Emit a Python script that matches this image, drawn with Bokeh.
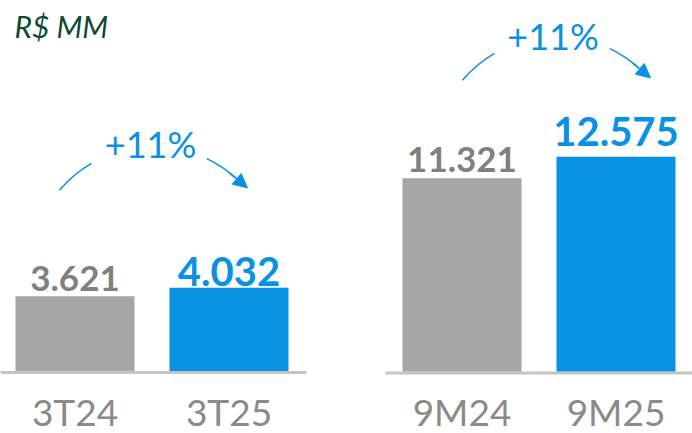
import numpy as np
from bokeh.plotting import figure
from bokeh.layouts import row
from bokeh.models import Range1d, Arrow, NormalHead
from bokeh.core.properties import value
from bokeh.embed import file_html
from bokeh.resources import INLINE

# ---------------- data ----------------
unit_label = "R$ MM"
cats_q = ["3T24", "3T25"]
vals_q = [3.621, 4.032]
labels_q = ["3.621", "4.032"]
growth_q = "+11%"

cats_ytd = ["9M24", "9M25"]
vals_ytd = [11.321, 12.575]
labels_ytd = ["11.321", "12.575"]
growth_ytd = "+11%"

# ---------------- style ----------------
GRAY = "#a6a6a6"
BLUE = "#0a91e3"
VAL_GRAY = "#808080"
CAT_GRAY = "#8a8a8a"
BASE = "#c4c4c4"
GREEN = "#0f4a32"
FONT = "Lato"

W, H = 692, 433
STEP = 154.0             # px between category centres
BAR_W = 119.0            # px
BL_FIX = 0.33            # baseline correction (em)


def make_panel(cats, vals, labels, growth, off, c0, b, k, gaps, arc_c, text_pos, show_unit=False):
    pw = 346.0
    p = figure(width=int(pw), height=H, output_backend="svg",
               toolbar_location=None, x_axis_location=None, y_axis_location=None,
               min_border=0, outline_line_color=None,
               x_range=Range1d(-c0 / STEP, (pw - c0) / STEP),
               y_range=Range1d(-(H - b) / k, b / k))
    p.xgrid.visible = False
    p.ygrid.visible = False
    p.background_fill_color = "white"
    p.border_fill_color = "white"

    def D(X, Y):
        return (X - off - c0) / STEP, (b - Y) / k

    def txt_y(Y, size):
        # desired alphabetic baseline at pixel row Y
        return D(0, Y - BL_FIX * size)[1]

    idx = np.arange(len(cats))
    # baseline
    bx0 = D(off + (0 if off == 0 else 39), 0)[0]
    bx1 = D(off + (306 if off == 0 else 346), 0)[0]
    p.segment(x0=[bx0], y0=[-1.5 / k], x1=[bx1], y1=[-1.5 / k], line_color=BASE, line_width=3)
    # bars
    p.vbar(x=idx, top=vals, bottom=0, width=BAR_W / STEP, fill_color=[GRAY, BLUE],
           line_color=None)
    # value labels
    sizes = [35, 40]
    p.text(x=idx, y=[v + (g + BL_FIX * s) / k for v, g, s in zip(vals, gaps, sizes)], text=labels,
           text_font=value(FONT), text_font_style="bold",
           text_font_size=[f"{s}px" for s in sizes], text_color=[VAL_GRAY, BLUE],
           text_align="center", text_baseline="alphabetic")
    # category labels
    p.text(x=idx, y=[txt_y(423, 37)] * len(cats), text=cats,
           text_font=value(FONT), text_font_size="37px", text_color=CAT_GRAY,
           text_align="center", text_baseline="alphabetic")
    # growth arrow
    cx, cy = D(*arc_c)
    r = 123
    p.arc(x=[cx, cx], y=[cy, cy], radius=r, radius_units="screen",
          start_angle=[np.deg2rad(120.3), np.deg2rad(48)],
          end_angle=[np.deg2rad(139.9), np.deg2rad(64.3)],
          line_color=BLUE, line_width=1.5)

    def on_circle(ang, rr):
        a = np.deg2rad(ang)
        return D(arc_c[0] + rr * np.cos(a), arc_c[1] - rr * np.sin(a))

    xs, ys = on_circle(52, 123)
    xe, ye = on_circle(41, 124.5)
    p.add_layout(Arrow(end=NormalHead(size=14, fill_color=BLUE, line_color=BLUE),
                       x_start=xs, y_start=ys, x_end=xe, y_end=ye,
                       line_color=BLUE, line_width=1.5))
    tx = D(text_pos[0], 0)[0]
    p.text(x=[tx], y=[txt_y(text_pos[1], 36)], text=[growth], text_font=value(FONT),
           text_font_size="36px", text_color=BLUE, text_align="center",
           text_baseline="alphabetic")
    if show_unit:
        ux = D(14, 0)[0]
        p.text(x=[ux], y=[txt_y(35, 30)], text=[unit_label], text_font=value(FONT),
               text_font_style="italic", text_font_size="30px", text_color=GREEN,
               text_align="left", text_baseline="alphabetic")
    return p


p1 = make_panel(cats_q, vals_q, labels_q, growth_q, off=0, c0=74.5, b=370.5, k=20.65,
                gaps=[6, 3], arc_c=(153, 269), text_pos=(150, 155), show_unit=True)
p2 = make_panel(cats_ytd, vals_ytd, labels_ytd, growth_ytd, off=346, c0=115.5, b=371, k=17.07,
                gaps=[7, 12], arc_c=(556, 159), text_pos=(552.5, 47))

layout = row(p1, p2, spacing=0)
open("out.html", "w").write(file_html(layout, INLINE))
